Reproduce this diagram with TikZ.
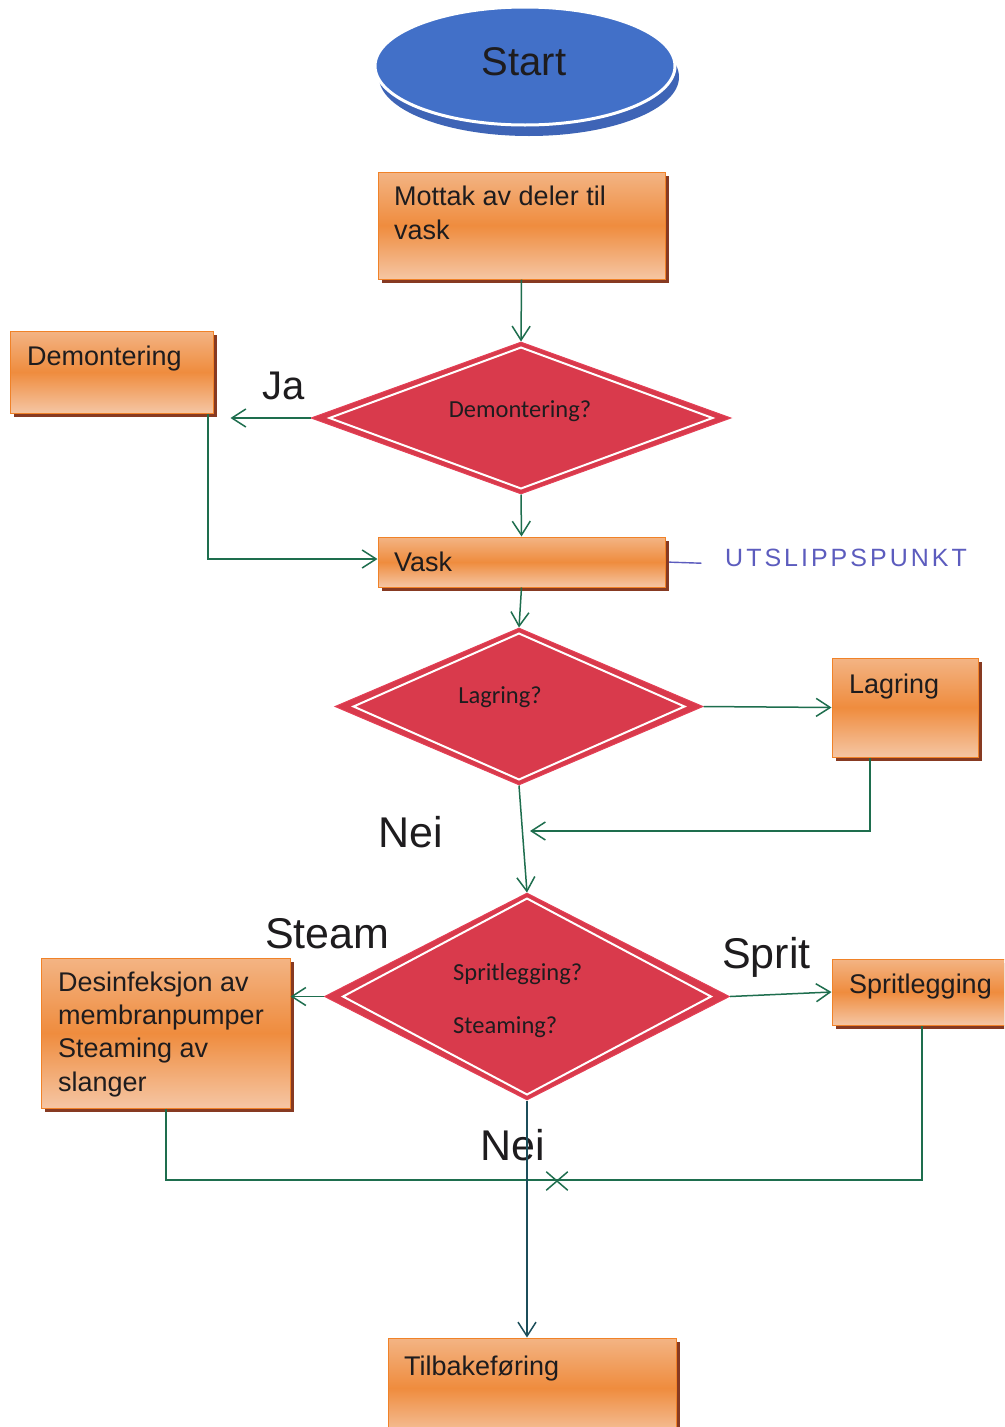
\documentclass[tikz,border=0pt]{standalone}
\usepackage{fontspec}
\setmainfont{Liberation Sans}
\newfontfamily\calibrifont{Carlito}
\newfontfamily\penfont[LetterSpace=12]{Liberation Sans}
\usetikzlibrary{shapes.geometric,shapes.misc,shadows,arrows.meta,calc}

\definecolor{boxtop}{RGB}{243,180,132}
\definecolor{boxmid}{RGB}{239,140,62}
\definecolor{boxbot}{RGB}{245,198,164}
\definecolor{boxedge}{RGB}{240,130,40}
\definecolor{boxshade}{RGB}{135,58,34}
\definecolor{decred}{RGB}{217,58,76}
\definecolor{decedge}{RGB}{228,64,86}
\definecolor{startblue}{RGB}{66,112,200}
\definecolor{startshade}{RGB}{62,100,182}
\definecolor{flowgreen}{RGB}{30,110,78}
\definecolor{flowdark}{RGB}{28,78,90}
\definecolor{inkgray}{RGB}{30,28,30}
\definecolor{penblue}{RGB}{92,92,190}

\tikzset{
  procbox/.style={rectangle, draw=boxedge, line width=1pt,
    top color=boxtop, bottom color=boxbot, middle color=boxmid,
    general shadow={shadow xshift=4pt, shadow yshift=-4pt, fill=boxshade},
    inner sep=0pt},
  boxtext/.style={anchor=base west, inner sep=0pt, text=inkgray,
    font=\fontsize{27}{33.3}\selectfont, align=left},
  decision/.style={diamond, fill=decred, draw=decedge, line width=1pt,
    inner sep=0pt},
  decinner/.style={draw=white, line width=2pt, line join=miter},
  dectext/.style={inner sep=0pt, text=inkgray,
    font=\calibrifont\fontsize{24.5}{30}\selectfont},
  biglabel/.style={anchor=base west, inner sep=0pt, text=inkgray,
    font=\fontsize{43}{50}\selectfont},
  flow/.style={draw=flowgreen, line width=1.5pt,
    -{Straight Barb[length=14pt,width=18pt,line width=1.5pt]}},
  flowline/.style={draw=flowgreen, line width=1.5pt},
}

\begin{document}
\begin{tikzpicture}[x=1pt,y=-1pt]
  \path[use as bounding box, fill=white] (0,0) rectangle (1004,1427);
  \clip (0,0) rectangle (1004,1427);

  % start terminal
  \node[ellipse, fill=startblue, draw=white, line width=3pt,
        minimum width=300pt, minimum height=118pt, inner sep=0pt,
        general shadow={shadow xshift=4pt, shadow yshift=-11pt, fill=startshade}]
        (start) at (525,66) {};
  \node[anchor=base, inner sep=0pt, text=inkgray, font=\fontsize{40}{48}\selectfont]
        (starttext) at (524,75) {Start};

  % process boxes (multi-line texts are placed by the baseline of their last line)
  \node[procbox, minimum width=287pt, minimum height=107pt] (mottak) at (521.5,225.5) {};
  \node[boxtext] (mottaktext) at (394,239) {Mottak av deler til\\vask};

  \node[procbox, minimum width=203pt, minimum height=82pt] (demont) at (111.5,372) {};
  \node[boxtext] (demonttext) at (27,365) {Demontering};

  \node[procbox, minimum width=287pt, minimum height=50pt] (vask) at (521.5,562) {};
  \node[boxtext] (vasktext) at (394,571) {Vask};

  \node[procbox, minimum width=146pt, minimum height=99pt] (lagring) at (905,707.5) {};
  \node[boxtext] (lagringtext) at (849,693) {Lagring};

  \node[procbox, minimum width=249pt, minimum height=150pt] (desinf) at (165.5,1033) {};
  \node[boxtext] (desinftext) at (58,1091)
        {Desinfeksjon av\\membranpumper\\Steaming av\\slanger};

  \node[procbox, minimum width=200pt, minimum height=66pt] (sprit) at (932,992) {};
  \node[boxtext] (sprittext) at (849,993) {Spritlegging};

  \node[procbox, minimum width=288pt, minimum height=100pt] (tilbake) at (532,1388) {};
  \node[boxtext] (tilbaketext) at (404,1375) {Tilbakeføring};

  % decisions
  \node[decision, minimum width=420pt, minimum height=152pt] (d1) at (521,418) {};
  \draw[decinner] ($(d1.north)+(0,6)$) -- ($(d1.east)+(-19,0)$)
        -- ($(d1.south)+(0,-6)$) -- ($(d1.west)+(19,0)$) -- cycle;
  \node[dectext, anchor=base] (d1text) at (520,417) {Demontering?};

  \node[decision, minimum width=368pt, minimum height=157pt] (d2) at (519,706.5) {};
  \draw[decinner] ($(d2.north)+(0,6)$) -- ($(d2.east)+(-19,0)$)
        -- ($(d2.south)+(0,-6)$) -- ($(d2.west)+(19,0)$) -- cycle;
  \node[dectext, anchor=base] (d2text) at (500,703) {Lagring?};

  \node[decision, minimum width=405pt, minimum height=207pt] (d3) at (527,996.5) {};
  \draw[decinner] ($(d3.north)+(0,6)$) -- ($(d3.east)+(-19,0)$)
        -- ($(d3.south)+(0,-6)$) -- ($(d3.west)+(19,0)$) -- cycle;
  \node[dectext, anchor=base west] (d3texta) at (453,980) {Spritlegging?};
  \node[dectext, anchor=base west] (d3textb) at (453,1033) {Steaming?};

  % branch labels
  \node[biglabel, font=\fontsize{40}{48}\selectfont] (ja) at (262,399) {Ja};
  \node[biglabel] (nei1) at (378,847) {Nei};
  \node[biglabel] (steam) at (265,948) {Steam};
  \node[biglabel] (spritlbl) at (722,968) {Sprit};
  \node[biglabel] (nei2) at (480,1160) {Nei};

  % connectors
  \draw[flow] (mottak.south) -- (d1.north);
  \draw[flow, shorten >=17pt] (d1.west) -- (d1.west -| demont.east);
  \draw[flow] ([xshift=96.5pt]demont.south) |- ([yshift=3pt]vask.west);
  \draw[flow] (d1.south) -- (vask.north);
  \draw[flow] (vask.south) -- (d2.north);
  \draw[flow] (d2.east) -- (lagring.west);
  \coordinate (lagret) at (530,831);
  \draw[flow] ([xshift=-35pt]lagring.south) |- (lagret);
  \draw[flow] (d2.south) -- (d3.north);
  \draw[flow] (d3.west) -- (d3.west -| desinf.east);
  \draw[flow] (d3.east) -- (sprit.west);
  \coordinate (merge) at (540,1180);
  \draw[flowline] ([xshift=0.5pt]desinf.south) |- (merge)
        -| ([xshift=-10pt]sprit.south);
  \node[cross out, draw=flowgreen, line width=1.5pt, minimum width=20pt,
        minimum height=17pt, inner sep=0pt] (xmark) at (557,1181) {};
  \draw[flow, draw=flowdark] (d3.south) -- (d3.south |- tilbake.north);

  % handwritten note
  \node[anchor=base west, inner sep=0pt, text=penblue,
        font=\penfont\fontsize{25}{30}\selectfont] (note) at (725,566) {UTSLIPPSPUNKT};
  \draw[penblue, line width=1.4pt, line cap=round, shorten <=4pt, shorten >=24pt]
        (vask.east) -- ([yshift=-2pt]note.west |- vask.east);
\end{tikzpicture}
\end{document}
